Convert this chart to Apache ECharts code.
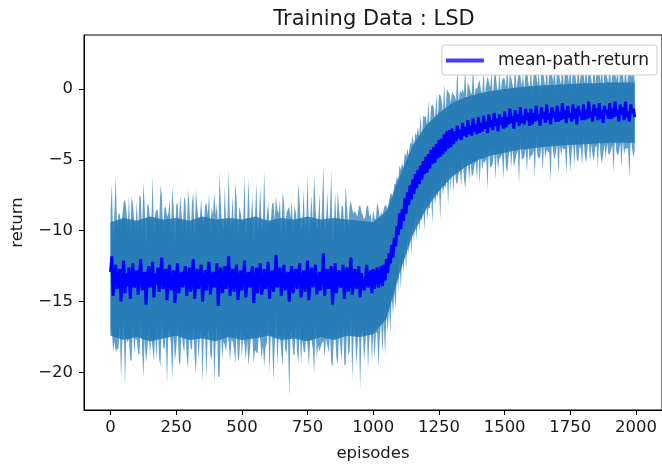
<!DOCTYPE html>
<html>
<head>
<meta charset="utf-8">
<script src="https://cdn.jsdelivr.net/npm/echarts@6/dist/echarts.min.js"></script>
<style>html,body{margin:0;padding:0;background:#fff}#c{width:662px;height:467px}</style>
</head>
<body>
<div id="c"></div>
<script>
// ---- data ----
const TITLE = 'Training Data : LSD';
const SERIES_NAME = 'mean-path-return';
const X_NAME = 'episodes';
const Y_NAME = 'return';
const EPISODE_STEP = 5;            // one sample every 5 episodes
const X_TICKS = [0, 250, 500, 750, 1000, 1250, 1500, 1750, 2000];
const Y_TICKS = [-20, -15, -10, -5, 0];

// mean return, one value per sample (20 per 100 episodes)
const meanReturn = [
  -12.9,-11.8,-14.6,-13.2,-12.4,-14.1,-13.6,-12.7,-15.0,-13.3,-12.1,-14.4,-13.0,-13.9,-12.6,-14.8,-13.4,-12.3,-14.0,-13.7,
  -12.8,-14.5,-13.1,-12.0,-14.2,-13.5,-12.9,-15.2,-13.3,-12.5,-14.0,-13.6,-12.2,-14.7,-13.0,-13.8,-12.6,-14.3,-13.2,-11.9,
  -14.1,-13.4,-12.7,-14.9,-13.0,-12.4,-14.2,-13.7,-12.8,-15.1,-13.3,-12.3,-14.4,-13.5,-12.9,-14.0,-13.1,-12.5,-14.6,-13.4,
  -12.6,-14.3,-13.2,-12.0,-14.8,-13.6,-12.7,-14.1,-13.3,-12.4,-15.0,-13.5,-12.8,-14.2,-13.0,-12.2,-14.5,-13.7,-12.9,-14.0,
  -13.4,-12.3,-15.3,-13.1,-12.6,-14.4,-13.8,-12.5,-14.1,-13.2,-11.8,-14.6,-13.5,-12.7,-14.3,-13.0,-12.4,-14.9,-13.6,-12.8,
  -14.2,-13.3,-12.1,-14.7,-13.5,-12.9,-14.0,-13.2,-12.5,-15.1,-13.7,-12.6,-14.4,-13.1,-12.3,-14.5,-13.8,-12.7,-14.1,-13.4,
  -12.2,-14.8,-13.3,-12.8,-14.3,-13.6,-11.7,-14.0,-13.1,-12.6,-14.6,-13.4,-12.4,-14.2,-13.7,-12.9,-15.0,-13.2,-12.5,-14.4,
  -13.5,-12.7,-14.1,-13.0,-12.3,-14.7,-13.6,-12.8,-14.3,-13.3,-12.1,-14.9,-13.4,-12.6,-14.0,-13.1,-12.4,-14.5,-13.8,-12.9,
  -14.2,-13.2,-11.6,-14.6,-13.5,-12.7,-14.1,-13.0,-12.5,-15.2,-13.6,-12.3,-14.4,-13.3,-12.8,-14.0,-13.7,-12.4,-14.8,-13.1,
  -12.6,-14.3,-13.4,-11.9,-14.5,-13.2,-12.7,-14.1,-13.6,-12.5,-14.7,-13.0,-12.9,-14.2,-13.5,-12.4,-14.0,-13.3,-12.8,-14.4,
  -12.7,-14.1,-13.2,-12.6,-14.0,-13.3,-12.5,-13.9,-12.4,-13.5,-12.0,-13.0,-11.6,-12.3,-11.0,-11.9,-10.5,-11.1,-9.7,-10.3,
  -8.8,-9.9,-8.5,-9.3,-7.7,-8.8,-7.3,-8.2,-6.8,-7.8,-6.4,-7.4,-6.0,-7.0,-5.7,-6.7,-5.4,-6.4,-5.1,-6.0,
  -4.8,-5.9,-4.6,-5.6,-4.3,-5.3,-4.1,-5.2,-3.9,-4.9,-3.6,-4.8,-3.5,-4.6,-3.2,-4.4,-3.0,-4.2,-2.9,-4.1,
  -2.8,-3.9,-3.0,-3.7,-2.6,-3.5,-2.9,-3.6,-2.4,-3.3,-2.7,-3.4,-2.2,-3.2,-2.6,-3.3,-2.1,-3.0,-2.5,-3.2,
  -2.0,-3.1,-2.4,-3.0,-1.9,-2.8,-2.3,-3.1,-1.8,-2.7,-2.2,-2.9,-1.7,-2.6,-2.1,-3.0,-1.8,-2.5,-2.0,-2.8,
  -1.6,-2.7,-2.0,-2.5,-1.4,-2.4,-1.9,-2.8,-1.5,-2.3,-1.8,-2.6,-1.3,-2.4,-1.9,-2.5,-1.4,-2.2,-1.7,-2.6,
  -1.4,-2.5,-1.7,-2.3,-1.2,-2.2,-1.8,-2.6,-1.3,-2.1,-1.6,-2.4,-1.1,-2.2,-1.7,-2.5,-1.3,-2.0,-1.6,-2.3,
  -1.2,-2.3,-1.6,-2.2,-1.0,-2.1,-1.5,-2.4,-1.2,-2.0,-1.7,-2.3,-1.1,-2.1,-1.4,-2.5,-1.2,-1.9,-1.6,-2.2,
  -1.1,-2.2,-1.5,-2.1,-0.9,-2.0,-1.6,-2.3,-1.1,-1.9,-1.4,-2.2,-1.0,-2.1,-1.5,-2.4,-1.2,-1.8,-1.5,-2.1,
  -1.0,-2.1,-1.4,-2.0,-0.9,-1.9,-1.5,-2.3,-1.1,-1.8,-1.3,-2.2,-0.9,-2.0,-1.6,-2.3,-1.1,-1.7,-1.4,-2.0
];

// standard deviation of the return, one value per sample (spiky outer edge of the band)
const stdReturn = [
  4.3,5.1,4.0,4.6,6.2,4.2,4.8,3.9,5.4,4.4,4.1,6.6,4.5,4.0,5.0,4.3,5.8,4.2,4.7,3.9,
  4.9,4.2,5.6,4.4,4.0,6.9,4.6,4.1,5.2,4.3,4.8,3.9,6.1,4.5,4.2,5.3,4.0,4.7,6.4,4.3,
  4.1,5.0,4.4,5.9,4.2,4.6,3.9,6.8,4.5,4.1,5.1,4.3,4.8,6.0,4.2,4.0,5.5,4.6,4.3,6.3,
  4.4,4.0,5.2,4.7,4.1,6.5,4.3,5.0,4.2,4.6,5.7,4.0,4.5,6.2,4.1,4.8,4.3,5.4,4.0,6.7,
  4.5,4.2,5.0,7.2,4.3,4.7,4.0,5.6,4.4,4.1,6.1,4.6,4.2,5.1,4.0,6.4,4.5,4.3,5.3,4.1,
  4.8,4.0,5.9,4.4,4.2,6.6,4.5,4.1,5.0,4.3,4.7,6.0,4.2,4.0,5.4,4.6,4.3,6.9,4.1,4.5,
  4.2,5.2,4.0,4.7,6.3,4.4,4.1,5.5,4.3,4.8,4.0,6.1,4.5,4.2,5.0,4.4,6.7,4.1,4.6,4.3,
  5.3,4.0,4.5,6.4,4.2,4.8,4.1,5.7,4.3,4.0,6.0,4.6,4.2,5.1,4.4,7.0,4.1,4.5,4.3,5.6,
  4.0,4.7,6.2,4.3,4.1,5.4,4.5,4.2,6.8,4.4,4.0,5.0,4.6,6.1,4.2,4.3,5.5,4.1,4.7,6.3,
  4.2,4.5,5.1,4.0,6.0,4.4,4.1,5.3,4.6,4.2,6.5,4.3,4.0,5.0,4.5,4.1,5.8,4.3,4.0,4.9,
  4.2,5.0,4.0,4.6,5.6,4.1,3.9,4.8,4.0,5.3,3.8,4.2,3.7,4.9,3.6,4.0,3.8,4.4,3.5,3.9,
  3.4,4.2,3.3,3.7,3.2,4.0,3.1,3.5,3.0,3.9,3.1,3.4,2.9,3.7,3.0,3.3,3.6,2.9,3.2,4.0,
  2.9,3.3,3.8,2.8,3.1,4.2,2.8,3.0,3.5,2.7,3.2,4.4,2.7,2.9,3.6,2.6,3.0,4.0,2.6,3.1,
  2.6,3.5,2.5,2.9,4.1,2.5,2.8,3.3,2.4,3.0,4.3,2.5,2.7,3.4,2.4,2.9,3.9,2.4,2.6,3.2,
  2.4,3.7,2.3,2.7,3.2,2.4,2.6,4.0,2.3,2.8,3.3,2.3,2.5,3.8,2.4,2.7,3.1,2.3,2.6,3.6,
  2.3,2.8,3.9,2.3,2.5,3.2,2.2,2.7,3.6,2.3,2.5,4.1,2.2,2.6,3.0,2.3,2.8,3.7,2.2,2.5,
  3.3,2.2,2.6,3.9,2.3,2.5,3.1,2.2,2.7,3.7,2.3,2.5,3.2,2.2,2.8,4.0,2.3,2.5,3.4,2.2,
  2.6,3.8,2.3,2.5,3.1,2.2,2.7,3.6,2.3,2.4,4.1,2.2,2.6,3.3,2.3,2.5,3.9,2.2,2.6,3.2,
  2.3,2.5,3.7,2.2,2.7,3.2,2.3,2.4,4.0,2.2,2.6,3.4,2.3,2.5,3.8,2.2,2.7,3.1,2.3,2.5,
  3.6,2.2,2.6,3.9,2.3,2.5,3.2,2.2,2.7,3.7,2.3,2.4,3.3,2.2,2.6,4.0,2.3,2.5,3.4,2.4
];

// solid (dense) part of the band, read every 50 episodes
const coreEpisodes = [0,50,100,150,200,250,300,350,400,450,500,550,600,650,700,750,800,850,900,950,
  1000,1050,1100,1150,1200,1250,1300,1350,1400,1450,1500,1550,1600,1650,1700,1750,1800,1850,1900,1950,1995];
const coreUpper = [-9.4,-9.1,-9.3,-9.0,-9.2,-9.1,-9.3,-9.0,-9.2,-9.1,-9.2,-9.0,-9.3,-9.1,-9.2,-9.0,-9.2,-9.1,-9.2,-9.3,
  -9.4,-8.6,-6.2,-4.0,-2.6,-1.7,-1.0,-0.6,-0.35,-0.15,0.0,0.1,0.2,0.25,0.3,0.35,0.4,0.4,0.45,0.45,0.45];
const coreLower = [-17.4,-17.7,-17.5,-17.8,-17.6,-17.4,-17.7,-17.6,-17.8,-17.5,-17.7,-17.6,-17.4,-17.7,-17.6,-17.8,-17.5,-17.7,-17.4,-17.5,
  -17.3,-16.2,-13.0,-10.3,-8.5,-7.2,-6.2,-5.5,-5.0,-4.7,-4.5,-4.3,-4.2,-4.1,-4.0,-3.95,-3.9,-3.85,-3.8,-3.8,-3.8];

// ---- build series data ----
const episodes = meanReturn.map((_, i) => i * EPISODE_STEP);
const meanData = meanReturn.map((v, i) => [episodes[i], v]);
// band rows: [episode, lower, upper]
const bandData = meanReturn.map((v, i) => [episodes[i], v - stdReturn[i], v + stdReturn[i]]);
const coreData = coreEpisodes.map((e, i) => [e, coreLower[i], coreUpper[i]]);

const FONT = 'DejaVu Sans';
const TXT = '#1a1a1a';
const fmtMinus = v => (v < 0 ? '\u2212' + Math.abs(v) : String(v));

function bandRenderer(rows, fill, opacity) {
  return function (params, api) {
    if (params.dataIndex !== 0) return null;
    const upper = [], lower = [];
    for (let i = 0; i < rows.length; i++) {
      upper.push(api.coord([rows[i][0], rows[i][2]]));
      lower.push(api.coord([rows[i][0], rows[i][1]]));
    }
    const cs = params.coordSys;
    return {
      type: 'polygon',
      shape: { points: upper.concat(lower.reverse()) },
      style: { fill: fill, opacity: opacity },
      clipPath: { type: 'rect', shape: { x: cs.x, y: cs.y, width: cs.width, height: cs.height } },
      silent: true
    };
  };
}

const chart = echarts.init(document.getElementById('c'), null, { renderer: 'canvas' });
chart.setOption({
  animation: false,
  backgroundColor: '#ffffff',
  title: {
    text: TITLE,
    left: 369,
    textAlign: 'center',
    top: 4,
    textStyle: { fontFamily: FONT, fontSize: 21, fontWeight: 'normal', color: TXT }
  },
  legend: {
    right: 5,
    top: 45,
    orient: 'horizontal',
    backgroundColor: '#ffffff',
    borderColor: '#cccccc',
    borderWidth: 1,
    borderRadius: 3,
    padding: [7, 8, 6, 4],
    itemWidth: 38,
    itemHeight: 4,
    itemGap: 10,
    textStyle: { fontFamily: FONT, fontSize: 17, color: TXT, padding: [0, 0, 0, 9] },
    data: [{ name: SERIES_NAME, icon: 'rect', itemStyle: { color: '#4040ff' } }]
  },
  grid: {
    left: 84, top: 35, width: 580, height: 378,
    show: true, borderColor: '#000000', borderWidth: 1, backgroundColor: 'transparent'
  },
  xAxis: {
    type: 'value',
    min: -101, max: 2099,
    name: X_NAME,
    nameLocation: 'middle',
    nameGap: 35,
    nameTextStyle: { fontFamily: FONT, fontSize: 16.5, color: TXT },
    axisLine: { show: true, onZero: false, lineStyle: { color: '#000', width: 1 } },
    axisTick: { show: true, inside: false, length: 5, customValues: X_TICKS, lineStyle: { color: '#000' } },
    axisLabel: { customValues: X_TICKS, margin: 9, fontFamily: FONT, fontSize: 16.5, color: TXT, formatter: v => String(v) },
    splitLine: { show: false }
  },
  yAxis: {
    type: 'value',
    min: -22.64, max: 3.8,
    name: Y_NAME,
    nameLocation: 'middle',
    nameGap: 58,
    nameRotate: 90,
    nameTextStyle: { fontFamily: FONT, fontSize: 16.5, color: TXT },
    axisLine: { show: true, onZero: false, lineStyle: { color: '#000', width: 1 } },
    axisTick: { show: true, inside: false, length: 5, customValues: Y_TICKS, lineStyle: { color: '#000' } },
    axisLabel: { customValues: Y_TICKS, margin: 11, fontFamily: FONT, fontSize: 16.5, color: TXT, formatter: fmtMinus },
    splitLine: { show: false }
  },
  series: [
    {
      name: 'band',
      type: 'custom',
      data: bandData,
      encode: { x: 0, y: [1, 2] },
      renderItem: bandRenderer(bandData, '#1f77b4', 0.7),
      silent: true,
      z: 1
    },
    {
      name: 'band-core',
      type: 'custom',
      data: coreData,
      encode: { x: 0, y: [1, 2] },
      renderItem: bandRenderer(coreData, '#1f77b4', 0.85),
      silent: true,
      z: 2
    },
    {
      name: SERIES_NAME,
      type: 'line',
      data: meanData,
      showSymbol: false,
      symbol: 'none',
      lineStyle: { color: '#0000ff', width: 3 },
      itemStyle: { color: '#0000ff' },
      z: 3
    }
  ]
});
</script>
</body>
</html>
